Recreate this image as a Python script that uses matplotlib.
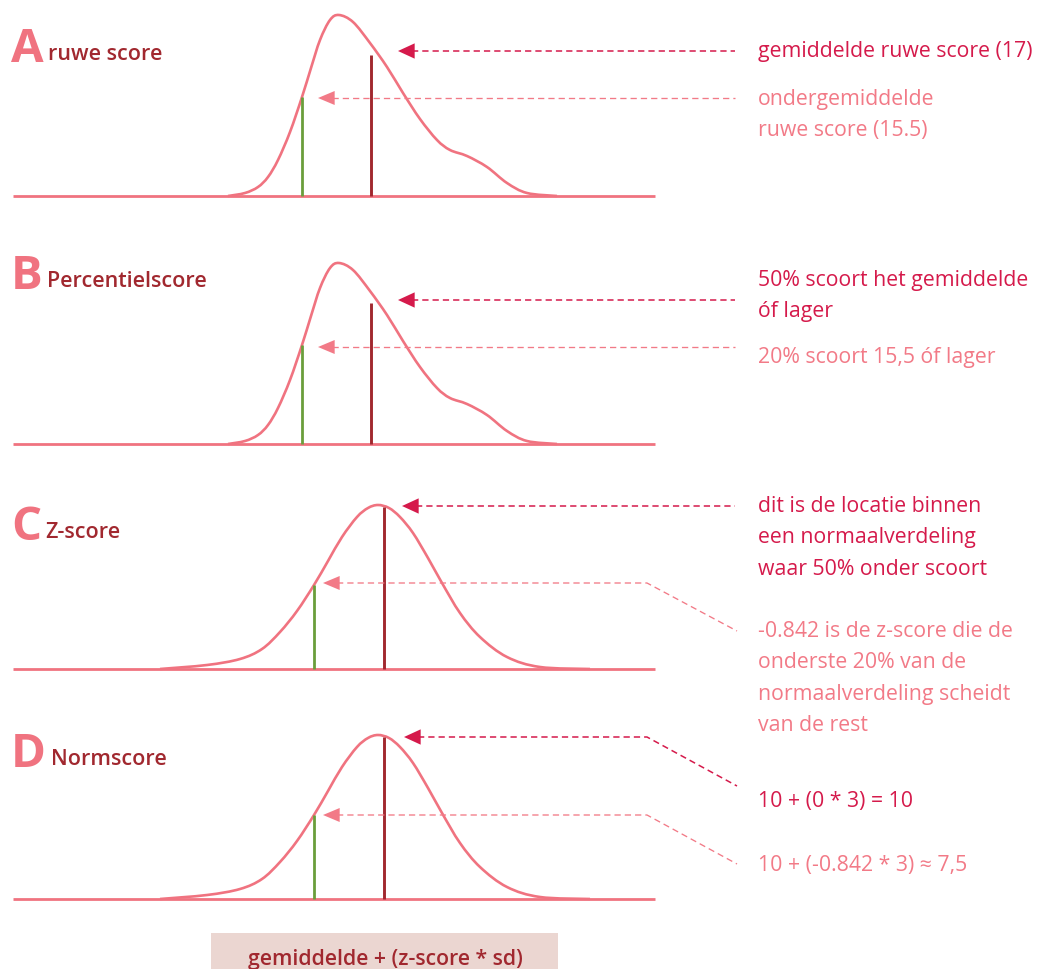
import numpy as np
import matplotlib.pyplot as plt
from matplotlib.path import Path
from matplotlib.patches import PathPatch, Rectangle

plt.rcParams['font.family'] = ['Open Sans', 'DejaVu Sans']
plt.rcParams['lines.scale_dashes'] = False

# kleuren
PINK = '#f07380'
LIGHT = '#f27a87'
CRIMSON = '#d51a4b'
DARKRED = '#a1282f'
GREEN = '#6a9e3b'
BOX = '#ebd6d1'

# scheve verdeling (A en B): x-positie en hoogte boven de basislijn (px)
skew_x = [228, 245, 258, 268, 278, 290, 302, 311, 320, 330, 339, 353, 370,
          387, 403, 420, 437, 450, 467, 487, 507, 527, 557]
skew_h = [0, 3, 9, 19, 36, 64, 99, 128, 156, 176, 181, 174, 153,
          129, 103, 77, 56, 46, 40, 29, 13, 3, 0]

# normaalverdeling (C en D)
norm_x = [160, 207, 240, 262, 280, 297, 314, 328, 342, 357, 368, 378, 389,
          400, 413, 428, 442, 460, 480, 507, 540, 590]
norm_h = [0, 4, 10, 20, 37, 58, 84, 108, 132, 152, 161, 164, 161,
          152, 136, 111, 86, 56, 32, 12, 2, 0]

letters = ['A', 'B', 'C', 'D']
titles = ['ruwe score', 'Percentielscore', 'Z-score', 'Normscore']
baselines = [196, 444, 669, 899]
letter_y = [62, 289, 540, 767]
title_x = [48, 47, 45, 51]
title_y = [60, 287, 538, 765]

# verticale lijnen: (x, hoogte) voor gemiddelde en ondergemiddelde score
mean_line = [(371, 141), (371, 141), (384, 162), (384, 162)]
low_line = [(302, 99), (302, 99), (314, 84), (314, 84)]

# pijlen: punt van de pijl, eventuele knik en eindpunt
dark_arrows = [[(398, 51), (735, 51)],
               [(398, 300), (735, 300)],
               [(402, 506), (735, 506)],
               [(404, 737), (647, 737), (737, 786)]]
light_arrows = [[(318, 98), (735, 98)],
                [(318, 347), (735, 347)],
                [(323, 583), (647, 583), (737, 631)],
                [(323, 815), (647, 815), (737, 864)]]

dark_texts = [('gemiddelde ruwe score (17)', 51),
              ('50% scoort het gemiddelde\nóf lager', 280),
              ('dit is de locatie binnen\neen normaalverdeling\nwaar 50% onder scoort', 506),
              ('10 + (0 * 3) = 10', 801)]
light_texts = [('ondergemiddelde\nruwe score (15.5)', 99),
               ('20% scoort 15,5 óf lager', 357),
               ('-0.842 is de z-score die de\nonderste 20% van de\nnormaalverdeling scheidt\nvan de rest', 631),
               ('10 + (-0.842 * 3) ≈ 7,5', 865)]
formula = 'gemiddelde + (z-score * sd)'


def smooth_line(ax, xs, ys, **kw):
    # Catmull-Rom door de punten, als kubische bezier-segmenten
    p = np.column_stack([xs, ys]).astype(float)
    verts = [p[0]]
    codes = [Path.MOVETO]
    n = len(p)
    for i in range(n - 1):
        p0 = p[max(i - 1, 0)]
        p1, p2 = p[i], p[i + 1]
        p3 = p[min(i + 2, n - 1)]
        verts += [p1 + (p2 - p0) / 6, p2 - (p3 - p1) / 6, p2]
        codes += [Path.CURVE4] * 3
    ax.add_patch(PathPatch(Path(verts, codes), fill=False, **kw))


def dashed_arrow(ax, pts, color, lw, head=0.42):
    xs = [q[0] + (14 if k == 0 else 0) for k, q in enumerate(pts)]
    ys = [q[1] for q in pts]
    ax.plot(xs, ys, color=color, lw=lw, dashes=(4.5, 2.9), solid_capstyle='butt')
    tx, ty = pts[0]
    ax.annotate('', xy=(tx, ty), xytext=(tx + 16, ty),
                arrowprops=dict(arrowstyle=f'-|>,head_length=1.0,head_width={head}',
                                mutation_scale=12, color=color, lw=0,
                                shrinkA=0, shrinkB=0))


fig = plt.figure(figsize=(10.39, 9.69), dpi=100)
ax = fig.add_axes([0, 0, 1, 1])
ax.set_xlim(0, 1039)
ax.set_ylim(969, 0)
ax.axis('off')

for i in range(4):
    base = baselines[i]
    if i < 2:
        cx, ch = skew_x, skew_h
    else:
        cx, ch = norm_x, norm_h
    ax.plot([13, 655], [base, base], color=PINK, lw=2.0, solid_capstyle='butt')
    smooth_line(ax, cx, [base - h for h in ch], color=PINK, lw=1.9)

    mx, mh = mean_line[i]
    ax.plot([mx, mx], [base, base - mh], color=DARKRED, lw=2.1, solid_capstyle='butt')
    gx, gh = low_line[i]
    ax.plot([gx, gx], [base, base - gh], color=GREEN, lw=2.0, solid_capstyle='butt')

    dashed_arrow(ax, dark_arrows[i], CRIMSON, 1.1, head=0.46)
    dashed_arrow(ax, light_arrows[i], LIGHT, 0.95)

    ax.text(11, letter_y[i], letters[i], color=PINK,
            fontsize=34, fontweight='bold', va='baseline', ha='left')
    ax.text(title_x[i], title_y[i], titles[i],
            color=DARKRED, fontsize=15.5, fontweight='semibold', va='baseline')

    for txt, y, col in [(dark_texts[i][0], dark_texts[i][1], CRIMSON),
                        (light_texts[i][0], light_texts[i][1], LIGHT)]:
        for k, line in enumerate(txt.split('\n')):
            ax.text(758, y + 31.4 * k + 6, line, color=col, fontsize=15.3,
                    va='baseline', ha='left')

ax.add_patch(Rectangle((211, 933), 347, 40, facecolor=BOX, edgecolor='none'))
ax.text(385, 965, formula, color=DARKRED, fontsize=15.3, fontweight='semibold',
        ha='center', va='baseline')

fig.savefig('out.png', dpi=100)
